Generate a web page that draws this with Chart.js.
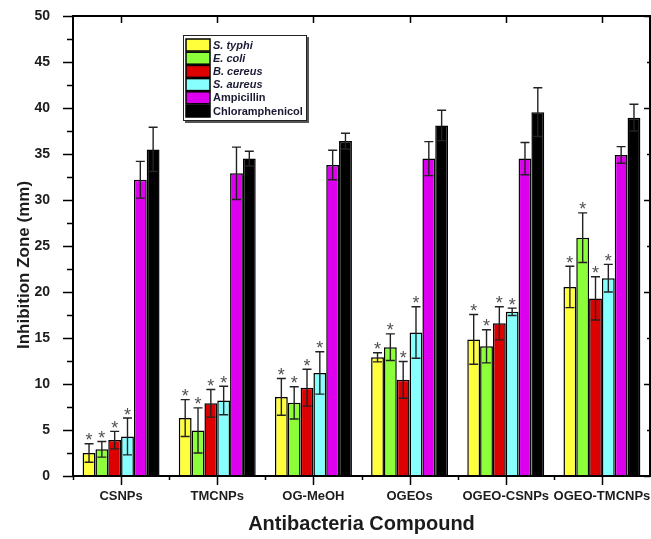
<!DOCTYPE html>
<html>
<head>
<meta charset="utf-8">
<script src="https://cdn.jsdelivr.net/npm/chart.js@4.4.0/dist/chart.umd.min.js"></script>
<style>
  html, body { margin: 0; padding: 0; background: #fff; overflow: hidden; }
</style>
</head>
<body>
<canvas id="zoneChart" width="651" height="539"></canvas>
<script>
// categories + series (mean, ± error)
const categories = ['CSNPs', 'TMCNPs', 'OG-MeOH', 'OGEOs', 'OGEO-CSNPs', 'OGEO-TMCNPs'];

const sTyphi = [2.5, 6.3, 8.6, 12.9, 14.85, 20.55];
const sTyphiErr = [1.0, 2.0, 2.0, 0.5, 2.7, 2.25];
const eColi = [2.9, 4.95, 7.95, 14.0, 14.1, 25.9];
const eColiErr = [0.85, 2.45, 1.75, 1.45, 1.8, 2.7];
const bCereus = [3.9, 7.9, 9.6, 10.45, 16.6, 19.3];
const bCereusErr = [0.95, 1.5, 2.0, 2.0, 1.8, 2.35];
const sAureus = [4.3, 8.2, 11.2, 15.6, 17.85, 21.5];
const sAureusErr = [2.0, 1.55, 2.3, 2.8, 0.4, 1.5];
const ampicillin = [32.2, 32.9, 33.8, 34.5, 34.5, 34.9];
const ampicillinErr = [2.0, 2.85, 1.6, 1.85, 1.75, 0.9];
const chloramphenicol = [35.5, 34.5, 36.4, 38.1, 39.55, 38.95];
const chloramphenicolErr = [2.4, 0.8, 0.85, 1.65, 2.65, 1.45];

// which series carry a significance star
const starred = [true, true, true, true, false, false];

const yMin = 0, yMax = 50, yStep = 5;

const FONT = '"Liberation Sans", Arial, sans-serif';
const INK = '#1c1c1c';

function ds(label, data, errors, color, italic, i) {
    return {
        label, data, errors, italic,
        star: starred[i],
        backgroundColor: color,
        borderColor: '#000',
        borderWidth: 1.5,
        borderSkipped: 'start',
        categoryPercentage: 0.8,
        barPercentage: 1.0
    };
}

// error bars + asterisks
const errorBars = {
    id: 'errorBars',
    afterDatasetsDraw(chart) {
        const ctx = chart.ctx, y = chart.scales.y;
        chart.data.datasets.forEach((d, i) => {
            const meta = chart.getDatasetMeta(i);
            meta.data.forEach((bar, j) => {
                const top = y.getPixelForValue(d.data[j] + d.errors[j]);
                const bot = y.getPixelForValue(d.data[j] - d.errors[j]);
                ctx.save();
                ctx.strokeStyle = '#222';
                ctx.lineWidth = 1.4;
                ctx.beginPath();
                ctx.moveTo(bar.x, top); ctx.lineTo(bar.x, bot);
                ctx.moveTo(bar.x - 4.5, top); ctx.lineTo(bar.x + 4.5, top);
                ctx.moveTo(bar.x - 4.5, bot); ctx.lineTo(bar.x + 4.5, bot);
                ctx.stroke();
                if (d.star) {
                    ctx.fillStyle = '#505050';
                    ctx.font = '18px ' + FONT;
                    ctx.textAlign = 'center';
                    ctx.textBaseline = 'alphabetic';
                    ctx.fillText('*', bar.x, top + 2.5);
                }
                ctx.restore();
            });
        });
    }
};

// Origin-style frame, inward/outward ticks, legend box, y title
const frame = {
    id: 'frame',
    afterDraw(chart) {
        const ctx = chart.ctx, a = chart.chartArea;
        const x = chart.scales.x, y = chart.scales.y;
        ctx.save();
        ctx.strokeStyle = '#000';
        ctx.lineWidth = 2;
        ctx.strokeRect(a.left, a.top, a.right - a.left, a.bottom - a.top);

        ctx.lineWidth = 1.5;
        ctx.beginPath();
        for (let v = yMin; v <= yMax; v += yStep / 2) {
            const py = Math.round(y.getPixelForValue(v)) + 0.5;
            const major = v % yStep === 0;
            ctx.moveTo(a.left, py); ctx.lineTo(a.left - (major ? 10 : 6), py);
            if (v % 5 === 0) {
                const len = v % 10 === 0 ? 6 : 3;
                ctx.moveTo(a.right, py); ctx.lineTo(a.right - len, py);
            }
        }
        for (let j = 0; j < categories.length; j++) {
            const cx = Math.round(x.getPixelForValue(j)) + 0.5;
            const bx = Math.round(x.getPixelForValue(j - 0.5)) + 0.5;
            ctx.moveTo(cx, a.bottom); ctx.lineTo(cx, a.bottom + 9);
            ctx.moveTo(bx, a.bottom); ctx.lineTo(bx, a.bottom + 4);
            ctx.moveTo(cx, a.top); ctx.lineTo(cx, a.top + 7);
        }
        ctx.stroke();

        // y title
        ctx.fillStyle = INK;
        ctx.font = 'bold 17px ' + FONT;
        ctx.translate(24, 265);
        ctx.rotate(-Math.PI / 2);
        ctx.textAlign = 'center';
        ctx.textBaseline = 'middle';
        ctx.fillText('Inhibition Zone (mm)', 0, 0);
        ctx.restore();

        // legend
        const lx = 183, ly = 35, lw = 124, lh = 86;
        ctx.save();
        ctx.fillStyle = '#555';
        ctx.fillRect(lx + 2, ly + 2, lw, lh);
        ctx.fillStyle = '#fff';
        ctx.fillRect(lx, ly, lw, lh);
        ctx.strokeStyle = '#222';
        ctx.lineWidth = 1;
        ctx.strokeRect(lx + 0.5, ly + 0.5, lw - 1, lh - 1);
        chart.data.datasets.forEach((d, i) => {
            const ry = ly + 4 + i * 13.2;
            ctx.fillStyle = d.backgroundColor;
            ctx.fillRect(lx + 3, ry, 24, 12);
            ctx.strokeStyle = '#000';
            ctx.lineWidth = 1.5;
            ctx.strokeRect(lx + 3, ry, 24, 12);
            ctx.fillStyle = '#1a1a33';
            ctx.font = (d.italic ? 'italic ' : '') + 'bold 11px ' + FONT;
            ctx.textAlign = 'left';
            ctx.textBaseline = 'middle';
            ctx.fillText(d.label, lx + 30, ry + 6.5);
        });
        ctx.restore();
    }
};

const chart = new Chart(document.getElementById('zoneChart'), {
    type: 'bar',
    data: {
        labels: categories,
        datasets: [
            ds('S. typhi', sTyphi, sTyphiErr, '#ffff3c', true, 0),
            ds('E. coli', eColi, eColiErr, '#8cff3a', true, 1),
            ds('B. cereus', bCereus, bCereusErr, '#dc0000', true, 2),
            ds('S. aureus', sAureus, sAureusErr, '#88ffff', true, 3),
            ds('Ampicillin', ampicillin, ampicillinErr, '#dd00ee', false, 4),
            ds('Chloramphenicol', chloramphenicol, chloramphenicolErr, '#000000', false, 5)
        ]
    },
    options: {
        responsive: false,
        animation: false,
        devicePixelRatio: 1,
        layout: { padding: { left: 0, right: 1, top: 16, bottom: 0 } },
        plugins: {
            legend: { display: false },
            tooltip: { enabled: false }
        },
        scales: {
            x: {
                grid: { display: false, drawTicks: false },
                border: { display: false },
                ticks: {
                    color: INK, padding: 13, maxRotation: 0, autoSkip: false,
                    font: { family: FONT, size: 13, weight: 'bold' }
                },
                title: {
                    display: true, text: 'Antibacteria Compound', color: INK,
                    font: { family: FONT, size: 20, weight: 'bold' },
                    padding: { top: 0, bottom: 3 }
                },
                afterFit(s) { s.height = 63; s.paddingLeft = 0; s.paddingRight = 0; }
            },
            y: {
                min: yMin, max: yMax,
                grid: { display: false, drawTicks: false },
                border: { display: false },
                ticks: {
                    stepSize: yStep, color: INK, padding: 23,
                    font: { family: FONT, size: 14, weight: 'bold' }
                },
                afterFit(s) { s.width = 73; s.paddingTop = 0; s.paddingBottom = 0; }
            }
        }
    },
    plugins: [errorBars, frame]
});
</script>
</body>
</html>
